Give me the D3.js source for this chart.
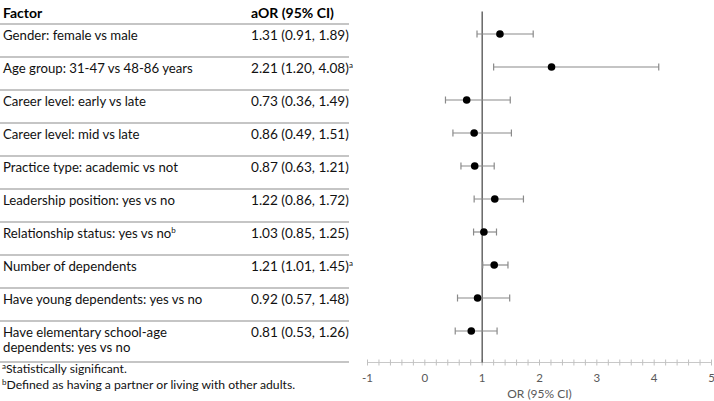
<!DOCTYPE html>
<html><head><meta charset="utf-8">
<script src="https://cdn.jsdelivr.net/npm/d3@7"></script>
<style>
html,body{margin:0;padding:0;background:#fff;}
svg{display:block;font-family:Lato, "Open Sans", sans-serif;}
</style></head>
<body>
<svg id="c" width="714" height="401"></svg>
<script>
const factors = [
  "Gender: female vs male",
  "Age group: 31-47 vs 48-86 years",
  "Career level: early vs late",
  "Career level: mid vs late",
  "Practice type: academic vs not",
  "Leadership position: yes vs no",
  "Relationship status: yes vs no",
  "Number of dependents",
  "Have young dependents: yes vs no",
  "Have elementary school-age dependents: yes vs no"
];
const factorSup = ["", "", "", "", "", "", "b", "", "", ""];
const aor   = [1.31, 2.21, 0.73, 0.86, 0.87, 1.22, 1.03, 1.21, 0.92, 0.81];
const lower = [0.91, 1.20, 0.36, 0.49, 0.63, 0.86, 0.85, 1.01, 0.57, 0.53];
const upper = [1.89, 4.08, 1.49, 1.51, 1.21, 1.72, 1.25, 1.45, 1.48, 1.26];
const sig   = ["", "a", "", "", "", "", "", "a", "", ""];
const xTicks = [-1, 0, 1, 2, 3, 4, 5];
const headers = ["Factor", "aOR (95% CI)"];
const footnotes = [["a", "Statistically significant."], ["b", "Defined as having a partner or living with other adults."]];
const axisTitle = "OR (95% CI)";

const svg = d3.select("#c");
const fmt = d3.format(".2f");

const x = d3.scaleLinear().domain([-1, 5]).range([367.5, 711.5]);
const y = d3.scalePoint().domain(d3.range(factors.length)).range([34, 331]);

// Table
const tbl = svg.append("g");
tbl.append("text").attr("x", 3).attr("y", 18).attr("font-weight", "bold").attr("font-size", 14).attr("fill", "#000").text(headers[0]);
tbl.append("text").attr("x", 251).attr("y", 18).attr("font-weight", "bold").attr("font-size", 14).attr("fill", "#000").text(headers[1]);

const lineYs = d3.range(factors.length).map(i => y(i) - 10).concat([362]);
tbl.selectAll("line.row").data(lineYs).join("line")
  .attr("x1", 0).attr("x2", 349).attr("y1", d => d).attr("y2", d => d)
  .attr("stroke", "#8c8c8c").attr("stroke-width", 1.2);

factors.forEach((f, i) => {
  const t = tbl.append("text").attr("x", 3).attr("y", y(i) + 6).attr("font-size", 13.2).attr("fill", "#111");
  if (i === factors.length - 1) {
    t.append("tspan").attr("x", 3).text("Have elementary school-age");
    t.append("tspan").attr("x", 3).attr("dy", 15).text("dependents: yes vs no");
  } else {
    t.append("tspan").text(f);
    if (factorSup[i]) t.append("tspan").attr("font-size", 8).attr("dy", -5).text(factorSup[i]);
  }
  const v = tbl.append("text").attr("x", 251).attr("y", y(i) + 6).attr("font-size", 13.6).attr("fill", "#111");
  v.append("tspan").text(`${fmt(aor[i])} (${fmt(lower[i])}, ${fmt(upper[i])})`);
  if (sig[i]) v.append("tspan").attr("font-size", 8).attr("dy", -5).text(sig[i]);
});

footnotes.forEach((fn, i) => {
  const t = tbl.append("text").attr("x", 2).attr("y", 373 + i * 15.5).attr("font-size", 12.2).attr("fill", "#111");
  t.append("tspan").attr("font-size", 8).attr("dy", -4).text(fn[0]);
  t.append("tspan").attr("dy", 4).text(fn[1]);
});

// Axis
const axisY = 362.5;
const ax = svg.append("g").attr("transform", `translate(0,${axisY})`);
ax.append("line").attr("x1", x(-1)).attr("x2", x(5)).attr("stroke", "#c8c8c8").attr("stroke-width", 1.2);
const minor = d3.range(-1, 5.0001, 0.2);
ax.selectAll("line.tk").data(minor).join("line")
  .attr("x1", d => x(d)).attr("x2", d => x(d)).attr("y1", -3).attr("y2", 3)
  .attr("stroke", "#c0c0c0").attr("stroke-width", 1);
ax.selectAll("text.tl").data(xTicks).join("text")
  .attr("x", d => x(d)).attr("y", 19).attr("text-anchor", "middle")
  .attr("font-size", 11.5).attr("fill", "#595959").text(d => d);
svg.append("text").attr("x", (x(-1) + x(5)) / 2).attr("y", 398).attr("text-anchor", "middle")
  .attr("font-size", 12).attr("fill", "#595959").text(axisTitle);

// Reference line at 1
svg.append("line").attr("x1", x(1)).attr("x2", x(1)).attr("y1", 11.5).attr("y2", axisY)
  .attr("stroke", "#404040").attr("stroke-width", 1.2);

// Error bars
const g = svg.append("g");
const capH = 3.5;
factors.forEach((f, i) => {
  const yy = y(i);
  g.append("line").attr("x1", x(lower[i])).attr("x2", x(upper[i])).attr("y1", yy).attr("y2", yy)
    .attr("stroke", "#8a8a8a").attr("stroke-width", 1.2);
  [lower[i], upper[i]].forEach(v => {
    g.append("line").attr("x1", x(v)).attr("x2", x(v)).attr("y1", yy - capH).attr("y2", yy + capH)
      .attr("stroke", "#8a8a8a").attr("stroke-width", 1.2);
  });
  g.append("circle").attr("cx", x(aor[i])).attr("cy", yy).attr("r", 3.8).attr("fill", "#000");
});
</script>
</body></html>
